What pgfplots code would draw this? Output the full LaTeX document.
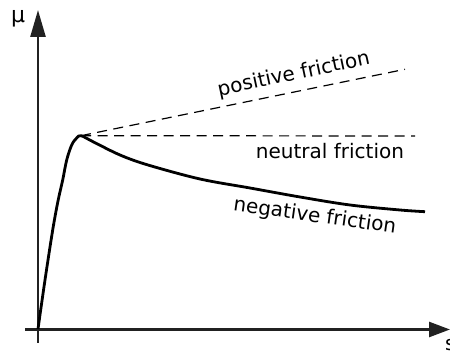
\documentclass[border=0pt]{standalone}
\usepackage{fontspec}
\setmainfont{DejaVu Sans}
\usepackage{pgfplots}
\pgfplotsset{compat=1.18}
\usetikzlibrary{arrows.meta}
\begin{document}
\begin{tikzpicture}
\begin{axis}[
  width=450pt, height=358pt, scale only axis,
  xmin=-38, xmax=412, ymin=-29, ymax=329,
  hide axis, clip=false,
]
\coordinate (bl) at (axis cs:-38,-29);
\coordinate (tr) at (axis cs:412,329);
% axes
\addplot[line width=2.6pt, color=black!87, -{Triangle[length=21pt,width=15pt]}] coordinates {(-13,-0.5) (412,-0.5)};
\addplot[line width=2.6pt, color=black!87, -{Triangle[length=27pt,width=15pt]}] coordinates {(0,-14) (0,319)};
% dashed lines
\addplot[line width=1.2pt, dash pattern=on 10pt off 6.5pt] coordinates {(43,193.3) (377,193)};
\addplot[line width=1.2pt, dash pattern=on 10pt off 6.5pt] coordinates {(43,193.3) (367,259.7)};
% friction curve
\addplot[line width=2.8pt, smooth, tension=0.55] coordinates {
(0,0) (7,49) (14.7,99) (20,128) (24.7,149) (28.7,169) (33.7,184) (38.7,191) (43,193.3)
(55,187.3) (82,174) (110,164) (162,150) (212,141) (262,132)
(312,124) (362,119) (387,117.3)};
% labels
\node[anchor=base, rotate=12, inner sep=0pt, font=\fontsize{20}{24}\selectfont] at (axis cs:257,249) {positive friction};
\node[anchor=base, inner sep=0pt, font=\fontsize{20}{24}\selectfont] at (axis cs:292,170) {neutral friction};
\node[anchor=base, rotate=-8, inner sep=0pt, font=\fontsize{20}{24}\selectfont] at (axis cs:276,107) {negative friction};
\node[anchor=center, inner sep=0pt, font=\fontsize{22}{24}\selectfont] at (axis cs:-20,310) {μ};
\node[anchor=base west, inner sep=0pt, font=\fontsize{20}{24}\selectfont] at (axis cs:407,-22) {s};
\end{axis}
\pgfresetboundingbox
\path (bl) rectangle (tr);
\end{tikzpicture}
\end{document}
